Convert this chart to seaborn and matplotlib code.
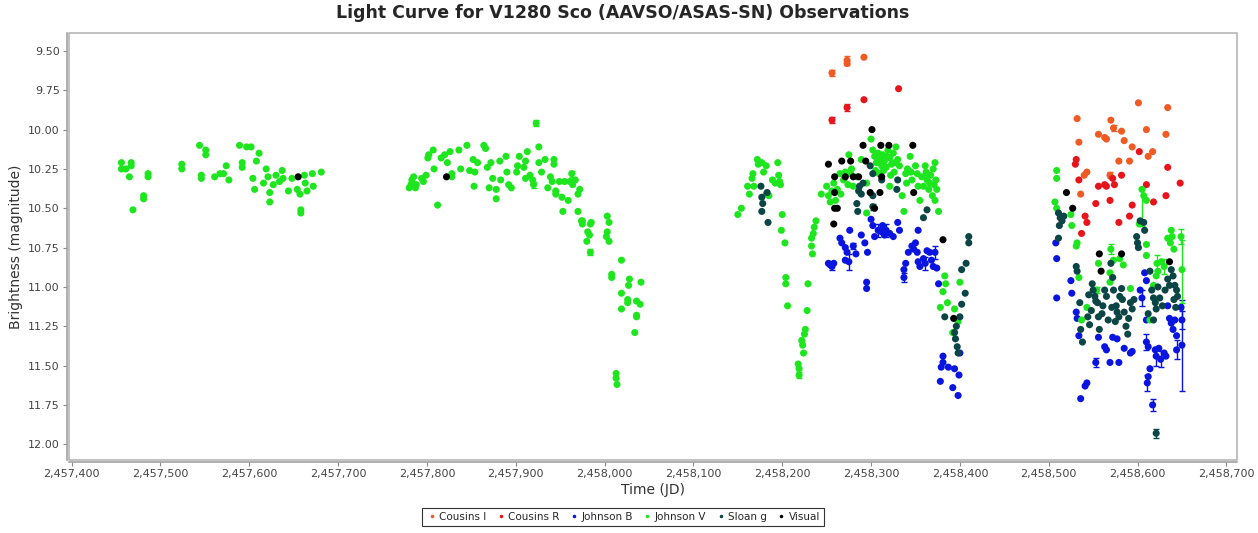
import numpy as np
import pandas as pd
import matplotlib
matplotlib.use("Agg")
import matplotlib.pyplot as plt
import matplotlib.ticker as mticker
from matplotlib.patches import Rectangle
import seaborn as sns

# ---------------- data (JD, magnitude) ----------------
cousins_i = [
    (2458256, 9.64), (2458273, 9.56), (2458273, 9.58), (2458292, 9.54),
    (2458601, 9.83), (2458634, 9.86), (2458532, 9.93), (2458570, 9.94), (2458573, 9.99),
    (2458534, 10.08), (2458556, 10.03), (2458563, 10.05), (2458565, 10.06), (2458582, 10.01),
    (2458585, 10.07), (2458594, 10.11), (2458610, 10.00), (2458632, 10.03), (2458612, 10.17),
    (2458617, 10.14), (2458579, 10.20), (2458591, 10.20), (2458543, 10.27), (2458540, 10.29),
    (2458569, 10.29), (2458536, 10.41),
]
cousins_r = [
    (2458256, 9.94), (2458273, 9.86), (2458292, 9.81), (2458331, 9.74),
    (2458531, 10.19), (2458530, 10.22), (2458534, 10.32), (2458602, 10.14), (2458634, 10.24),
    (2458556, 10.36), (2458563, 10.35), (2458565, 10.36), (2458572, 10.31), (2458582, 10.29),
    (2458574, 10.35), (2458553, 10.47), (2458569, 10.45), (2458594, 10.48), (2458610, 10.35),
    (2458618, 10.46), (2458632, 10.42), (2458648, 10.34), (2458541, 10.55), (2458543, 10.59),
    (2458537, 10.66), (2458591, 10.55), (2458579, 10.59),
]
johnson_b = [
    (2458252, 10.85), (2458256, 10.87), (2458258, 10.85), (2458254, 10.86), (2458265, 10.69),
    (2458267, 10.72), (2458271, 10.75), (2458273, 10.78), (2458271, 10.83), (2458275, 10.84),
    (2458276, 10.64), (2458280, 10.74), (2458283, 10.79), (2458289, 10.67), (2458293, 10.72),
    (2458296, 10.78), (2458295, 10.97), (2458295, 11.01), (2458300, 10.57), (2458302, 10.61),
    (2458304, 10.68), (2458308, 10.64), (2458312, 10.65), (2458313, 10.61), (2458315, 10.67),
    (2458317, 10.64), (2458321, 10.66), (2458325, 10.68), (2458330, 10.59), (2458332, 10.64),
    (2458337, 10.89), (2458337, 10.94), (2458339, 10.85), (2458342, 10.78), (2458346, 10.74),
    (2458348, 10.76), (2458350, 10.72), (2458352, 10.78), (2458353, 10.64), (2458353, 10.84),
    (2458355, 10.87), (2458359, 10.82), (2458361, 10.85), (2458363, 10.77), (2458366, 10.78),
    (2458368, 10.83), (2458370, 10.87), (2458372, 10.78), (2458374, 10.88), (2458376, 10.98),
    (2458381, 11.44), (2458381, 11.48), (2458379, 11.51), (2458387, 11.51), (2458378, 11.60),
    (2458392, 11.64), (2458394, 11.52), (2458398, 11.69), (2458400, 11.42), (2458399, 11.56),
    (2458508, 10.72), (2458509, 10.82), (2458509, 11.07), (2458525, 10.96), (2458526, 11.04),
    (2458531, 11.16), (2458532, 11.20), (2458534, 11.31), (2458536, 11.71), (2458541, 11.63),
    (2458543, 11.61), (2458553, 11.48), (2458556, 11.32), (2458563, 11.38), (2458565, 11.40),
    (2458569, 11.48), (2458572, 11.32), (2458577, 11.33), (2458579, 11.48), (2458585, 11.39),
    (2458592, 11.42), (2458594, 11.41), (2458603, 11.02), (2458605, 11.07), (2458608, 10.91),
    (2458610, 10.96), (2458610, 11.21), (2458610, 11.35), (2458612, 11.38), (2458614, 11.52),
    (2458612, 11.57), (2458611, 11.61), (2458617, 11.75), (2458620, 11.40), (2458621, 11.44),
    (2458624, 11.39), (2458626, 11.46), (2458630, 11.42), (2458632, 11.44), (2458634, 11.12),
    (2458636, 11.20), (2458638, 11.23), (2458640, 11.27), (2458642, 11.21), (2458644, 11.31),
    (2458644, 11.40), (2458649, 11.13), (2458650, 11.21), (2458650, 11.37),
]
johnson_v = [
    # 2016 season
    (2457456, 10.21), (2457456, 10.25), (2457461, 10.25), (2457467, 10.21), (2457467, 10.23),
    (2457465, 10.30), (2457486, 10.28), (2457486, 10.30), (2457481, 10.42), (2457481, 10.44),
    (2457469, 10.51), (2457524, 10.22), (2457524, 10.25), (2457544, 10.10), (2457551, 10.13),
    (2457551, 10.16), (2457546, 10.29), (2457546, 10.31), (2457561, 10.30), (2457567, 10.28),
    (2457571, 10.28), (2457574, 10.23), (2457577, 10.32), (2457589, 10.10), (2457597, 10.11),
    (2457602, 10.11), (2457592, 10.21), (2457592, 10.24), (2457611, 10.15), (2457608, 10.20),
    (2457604, 10.31), (2457606, 10.38), (2457616, 10.34), (2457619, 10.25), (2457621, 10.30),
    (2457623, 10.40), (2457623, 10.46), (2457627, 10.35), (2457630, 10.29), (2457634, 10.33),
    (2457637, 10.26), (2457638, 10.31), (2457644, 10.39), (2457648, 10.31), (2457654, 10.38),
    (2457657, 10.41), (2457658, 10.53), (2457658, 10.51), (2457662, 10.29), (2457663, 10.34),
    (2457665, 10.39), (2457671, 10.28), (2457672, 10.36), (2457681, 10.27),
    # 2017 season
    (2457780, 10.37), (2457782, 10.35), (2457783, 10.32), (2457785, 10.30), (2457788, 10.35),
    (2457787, 10.37), (2457794, 10.31), (2457796, 10.33), (2457799, 10.29), (2457801, 10.18),
    (2457802, 10.16), (2457807, 10.13), (2457808, 10.25), (2457812, 10.48), (2457816, 10.18),
    (2457820, 10.16), (2457823, 10.21), (2457826, 10.14), (2457828, 10.30), (2457828, 10.28),
    (2457836, 10.13), (2457838, 10.25), (2457845, 10.10), (2457848, 10.26), (2457852, 10.19),
    (2457853, 10.36), (2457854, 10.27), (2457857, 10.21), (2457864, 10.10), (2457866, 10.12),
    (2457868, 10.24), (2457870, 10.37), (2457872, 10.21), (2457874, 10.31), (2457878, 10.38),
    (2457878, 10.44), (2457882, 10.20), (2457883, 10.32), (2457889, 10.17), (2457890, 10.27),
    (2457892, 10.35), (2457895, 10.37), (2457901, 10.27), (2457902, 10.23), (2457904, 10.17),
    (2457909, 10.24), (2457911, 10.20), (2457913, 10.14), (2457911, 10.31), (2457916, 10.29),
    (2457919, 10.32), (2457920, 10.35), (2457923, 9.96), (2457926, 10.11), (2457926, 10.21),
    (2457929, 10.27), (2457933, 10.19), (2457936, 10.37), (2457939, 10.30), (2457941, 10.33),
    (2457943, 10.19), (2457943, 10.22), (2457945, 10.39), (2457945, 10.41), (2457949, 10.33),
    (2457952, 10.43), (2457953, 10.52), (2457955, 10.33), (2457959, 10.45), (2457961, 10.33),
    (2457963, 10.28), (2457964, 10.35), (2457967, 10.32), (2457970, 10.41), (2457972, 10.38),
    (2457970, 10.52), (2457975, 10.58), (2457985, 10.59), (2458003, 10.55),
    (2457974, 10.58), (2457975, 10.60), (2457984, 10.60), (2457981, 10.65), (2457983, 10.67),
    (2457980, 10.71), (2457984, 10.78), (2458005, 10.59), (2458003, 10.65), (2458002, 10.68),
    (2458005, 10.71), (2458019, 10.83), (2458008, 10.92), (2458008, 10.94), (2458028, 10.95),
    (2458027, 10.99), (2458041, 10.97), (2458019, 11.04), (2458026, 11.08), (2458026, 11.10),
    (2458036, 11.09), (2458040, 11.11), (2458019, 11.14), (2458036, 11.18), (2458036, 11.19),
    (2458034, 11.29), (2458013, 11.55), (2458013, 11.58), (2458014, 11.62),
    # 2018 season
    (2458150, 10.54), (2458154, 10.50), (2458161, 10.36), (2458163, 10.41), (2458166, 10.31),
    (2458168, 10.36), (2458167, 10.28), (2458172, 10.19), (2458173, 10.22), (2458177, 10.21),
    (2458179, 10.27), (2458182, 10.23), (2458182, 10.41), (2458185, 10.42), (2458189, 10.32),
    (2458192, 10.34), (2458195, 10.21), (2458196, 10.29), (2458197, 10.33), (2458198, 10.35),
    (2458200, 10.54), (2458199, 10.64), (2458203, 10.72), (2458204, 10.94), (2458204, 10.98),
    (2458206, 11.12), (2458238, 10.58), (2458236, 10.62), (2458235, 10.66), (2458233, 10.69),
    (2458233, 10.74), (2458234, 10.79), (2458229, 10.98), (2458228, 11.15), (2458226, 11.27),
    (2458225, 11.30), (2458222, 11.34), (2458223, 11.37), (2458224, 11.42), (2458218, 11.49),
    (2458219, 11.52), (2458219, 11.56),
    (2458244, 10.41), (2458250, 10.36), (2458252, 10.42), (2458254, 10.46), (2458256, 10.39),
    (2458260, 10.45), (2458258, 10.34), (2458265, 10.28), (2458275, 10.16), (2458278, 10.25),
    (2458269, 10.32), (2458284, 10.30), (2458280, 10.36), (2458289, 10.19), (2458295, 10.34),
    (2458295, 10.53), (2458300, 10.06), (2458302, 10.13), (2458304, 10.17), (2458306, 10.21),
    (2458308, 10.15), (2458310, 10.19), (2458312, 10.23), (2458313, 10.16), (2458315, 10.20),
    (2458317, 10.24), (2458319, 10.13), (2458321, 10.18), (2458323, 10.22), (2458325, 10.15),
    (2458326, 10.27), (2458328, 10.11), (2458330, 10.19), (2458332, 10.23), (2458321, 10.36),
    (2458335, 10.42), (2458337, 10.52), (2458339, 10.28), (2458340, 10.34), (2458344, 10.17),
    (2458346, 10.32), (2458350, 10.23), (2458352, 10.28), (2458355, 10.45), (2458353, 10.36),
    (2458361, 10.23), (2458363, 10.28), (2458363, 10.32), (2458365, 10.38), (2458366, 10.34),
    (2458370, 10.25), (2458372, 10.21), (2458374, 10.38), (2458373, 10.32), (2458376, 10.52),
    (2458262, 10.38), (2458266, 10.41), (2458271, 10.27), (2458274, 10.35), (2458277, 10.28),
    (2458305, 10.26), (2458309, 10.28), (2458314, 10.26), (2458318, 10.17), (2458322, 10.29),
    (2458327, 10.21), (2458341, 10.25), (2458345, 10.27), (2458357, 10.30), (2458359, 10.36),
    (2458362, 10.27), (2458367, 10.29), (2458369, 10.42), (2458371, 10.35), (2458372, 10.45),
    (2458383, 10.93), (2458384, 10.98), (2458381, 11.03), (2458378, 11.13), (2458386, 11.10),
    (2458394, 11.14), (2458400, 10.97), (2458398, 11.22), (2458392, 11.29),
    # 2019 season
    (2458509, 10.26), (2458509, 10.31), (2458507, 10.46), (2458509, 10.50), (2458525, 10.54),
    (2458526, 10.61), (2458532, 10.72), (2458531, 10.74), (2458534, 10.94), (2458543, 11.13),
    (2458537, 11.21), (2458570, 10.76), (2458573, 10.83), (2458569, 10.91), (2458569, 10.97),
    (2458556, 10.85), (2458580, 10.82), (2458584, 10.86), (2458554, 11.02), (2458592, 11.01),
    (2458605, 10.38), (2458607, 10.42), (2458610, 10.45), (2458602, 10.60), (2458610, 10.73),
    (2458610, 10.80), (2458622, 10.85), (2458623, 10.90), (2458621, 10.93), (2458627, 10.84),
    (2458630, 10.87), (2458618, 10.99), (2458638, 10.64), (2458639, 10.68), (2458637, 10.72),
    (2458641, 10.76), (2458649, 10.68), (2458650, 10.89), (2458634, 10.69), (2458614, 11.21),
]
sloan_g = [
    (2458176, 10.36), (2458177, 10.43), (2458178, 10.47), (2458177, 10.52), (2458183, 10.40),
    (2458184, 10.59),
    (2458287, 10.36), (2458286, 10.39), (2458289, 10.41), (2458291, 10.34), (2458284, 10.47),
    (2458285, 10.52), (2458299, 10.23), (2458302, 10.28), (2458302, 10.42), (2458302, 10.49),
    (2458312, 10.32), (2458330, 10.32), (2458329, 10.38), (2458359, 10.56), (2458363, 10.51),
    (2458410, 10.68), (2458410, 10.72), (2458407, 10.85), (2458402, 10.89), (2458406, 11.04),
    (2458402, 11.11), (2458400, 11.19), (2458383, 11.19), (2458396, 11.25), (2458394, 11.29),
    (2458395, 11.33), (2458397, 11.38), (2458398, 11.42),
    (2458511, 10.53), (2458513, 10.56), (2458515, 10.58), (2458512, 10.61), (2458517, 10.55),
    (2458511, 10.69), (2458531, 10.87), (2458532, 10.90), (2458535, 11.10), (2458536, 11.27),
    (2458538, 11.35), (2458544, 11.19), (2458546, 11.24), (2458549, 10.98), (2458550, 11.02),
    (2458552, 11.06), (2458553, 11.09), (2458556, 11.19), (2458557, 11.27), (2458561, 11.12),
    (2458563, 11.02), (2458565, 11.06), (2458567, 11.21), (2458570, 10.85), (2458572, 10.94),
    (2458573, 11.02), (2458576, 11.12), (2458577, 11.16), (2458580, 11.06), (2458582, 11.01),
    (2458583, 11.08), (2458579, 11.19), (2458587, 11.25), (2458589, 11.30), (2458592, 11.10),
    (2458594, 11.14), (2458599, 10.68), (2458600, 10.72), (2458601, 10.75), (2458603, 10.58),
    (2458607, 10.59), (2458608, 10.64), (2458616, 11.02), (2458618, 11.07), (2458620, 11.10),
    (2458621, 11.14), (2458618, 11.21), (2458623, 11.00), (2458625, 11.07), (2458628, 11.12),
    (2458631, 11.02), (2458634, 10.95), (2458638, 10.89), (2458640, 10.93), (2458642, 10.99),
    (2458644, 11.02), (2458645, 11.06), (2458621, 11.93),
    (2458545, 11.05), (2458548, 11.15), (2458555, 11.10), (2458560, 11.17), (2458571, 11.13),
    (2458575, 11.22), (2458585, 11.16), (2458590, 11.20), (2458596, 11.08), (2458612, 11.17),
    (2458636, 10.99), (2458641, 11.08), (2458643, 11.13), (2458614, 10.90),
]
visual = [
    (2457655, 10.30), (2457822, 10.30),
    (2458301, 10.00), (2458252, 10.22), (2458267, 10.20), (2458277, 10.20), (2458291, 10.10),
    (2458311, 10.10), (2458320, 10.10), (2458347, 10.10), (2458294, 10.20), (2458259, 10.30),
    (2458271, 10.30), (2458280, 10.30), (2458286, 10.30), (2458312, 10.30), (2458259, 10.40),
    (2458299, 10.40), (2458310, 10.40), (2458348, 10.40), (2458259, 10.50), (2458262, 10.50),
    (2458304, 10.50), (2458258, 10.60), (2458381, 10.70), (2458393, 11.20),
    (2458520, 10.40), (2458527, 10.50), (2458557, 10.79), (2458582, 10.79), (2458559, 10.90),
    (2458636, 10.84),
]
# points with visible error bars: (band, JD, magnitude, error)
error_points = [
    ("Cousins I", 2458256, 9.64, 0.02), ("Cousins I", 2458273, 9.56, 0.03),
    ("Cousins I", 2458573, 9.99, 0.02), ("Cousins I", 2458569, 10.29, 0.02),
    ("Cousins R", 2458256, 9.94, 0.02), ("Cousins R", 2458273, 9.86, 0.02),
    ("Johnson V", 2457923, 9.96, 0.02), ("Johnson V", 2457920, 10.35, 0.02),
    ("Johnson V", 2457963, 10.28, 0.02), ("Johnson V", 2457984, 10.78, 0.02),
    ("Johnson V", 2458219, 11.56, 0.02), ("Johnson V", 2458570, 10.76, 0.03),
    ("Johnson V", 2458554, 11.02, 0.02), ("Johnson V", 2458605, 10.49, 0.12),
    ("Johnson V", 2458649, 10.68, 0.05), ("Johnson V", 2458650, 10.90, 0.20),
    ("Johnson V", 2458622, 10.85, 0.05), ("Johnson V", 2458630, 10.87, 0.05),
    ("Johnson B", 2458256, 10.87, 0.02), ("Johnson B", 2458275, 10.84, 0.05),
    ("Johnson B", 2458280, 10.74, 0.02), ("Johnson B", 2458337, 10.94, 0.03),
    ("Johnson B", 2458361, 10.85, 0.04), ("Johnson B", 2458372, 10.78, 0.04),
    ("Johnson B", 2458308, 10.64, 0.04), ("Johnson B", 2458317, 10.64, 0.04),
    ("Johnson B", 2458553, 11.48, 0.03), ("Johnson B", 2458605, 11.07, 0.05),
    ("Johnson B", 2458610, 11.35, 0.05), ("Johnson B", 2458611, 11.61, 0.05),
    ("Johnson B", 2458617, 11.75, 0.04), ("Johnson B", 2458621, 11.44, 0.06),
    ("Johnson B", 2458626, 11.46, 0.05), ("Johnson B", 2458644, 11.40, 0.06),
    ("Johnson B", 2458650, 11.21, 0.06), ("Johnson B", 2458650, 11.37, 0.29),
    ("Sloan g", 2458621, 11.93, 0.03), ("Sloan g", 2458302, 10.49, 0.02),
]

bands = ["Cousins I", "Cousins R", "Johnson B", "Johnson V", "Sloan g", "Visual"]
band_colors = ["#f05a23", "#e8141c", "#0a14e0", "#1ee61e", "#0b4545", "#000000"]
series = [cousins_i, cousins_r, johnson_b, johnson_v, sloan_g, visual]

rows = []
for b, pts in zip(bands, series):
    for jd, m in pts:
        rows.append({"JD": jd, "mag": m, "band": b})
df = pd.DataFrame(rows)
palette = dict(zip(bands, band_colors))

# ---------------- plot ----------------
sns.set_style("white")
plt.rcParams["font.family"] = ["DejaVu Sans"]

W, H = 1258, 533
fig = plt.figure(figsize=(W / 100, H / 100), dpi=100)
ax = fig.add_axes([69 / W, (H - 460) / H, (1237 - 69) / W, (460 - 33) / H])

err_df = pd.DataFrame(error_points, columns=["band", "JD", "mag", "err"])
for b in bands:
    sub = err_df[err_df["band"] == b]
    if len(sub):
        ax.errorbar(sub["JD"], sub["mag"], yerr=sub["err"], fmt="none",
                    ecolor=palette[b], elinewidth=1.0, capsize=2.5, capthick=1.0, zorder=1)

sns.scatterplot(data=df, x="JD", y="mag", hue="band", hue_order=bands, palette=palette,
                s=26, linewidth=0, marker="o", ax=ax, legend=True, zorder=2)

ax.set_xlim(2457397, 2458712)
ax.set_ylim(12.10, 9.386)
ax.xaxis.set_major_locator(mticker.MultipleLocator(100))
ax.xaxis.set_major_formatter(mticker.FuncFormatter(lambda v, p: f"{int(round(v)):,}"))
ax.yaxis.set_major_locator(mticker.MultipleLocator(0.25))
ax.yaxis.set_major_formatter(mticker.FormatStrFormatter("%.2f"))

ax.tick_params(axis="both", which="major", direction="out", length=3, width=0.8,
               color="#888888", labelsize=8, labelcolor="#444444", pad=2)
ax.tick_params(bottom=True, left=True)

# frame around data area plus offset axis lines on left/bottom
for side in ["top", "right"]:
    ax.spines[side].set_visible(False)
for side in ["left", "bottom"]:
    ax.spines[side].set_position(("outward", 1.6))
    ax.spines[side].set_color("#9a9a9a")
    ax.spines[side].set_linewidth(1.1)
ax.add_patch(Rectangle((0, 0), 1, 1, transform=ax.transAxes, fill=False,
                       edgecolor="#b0b0b0", linewidth=1.1, clip_on=False, zorder=5))

ax.set_xlabel("Time (JD)", fontsize=10, color="#333333", labelpad=3)
ax.set_ylabel("Brightness (magnitude)", fontsize=10, color="#333333", labelpad=4)
fig.suptitle("Light Curve for V1280 Sco (AAVSO/ASAS-SN) Observations",
             fontsize=12.5, fontweight="bold", x=0.495, y=0.993)

handles, labels = ax.get_legend_handles_labels()
ax.get_legend().remove()
leg = fig.legend(handles, labels, loc="lower center", bbox_to_anchor=(0.495, 0.004), ncol=6,
                 frameon=True, fancybox=False, edgecolor="#000000", fontsize=7.5,
                 handletextpad=0.1, columnspacing=0.8, borderpad=0.35, markerscale=0.5,
                 handlelength=1.2)
leg.get_frame().set_linewidth(0.8)

fig.savefig("out.png", dpi=100)
